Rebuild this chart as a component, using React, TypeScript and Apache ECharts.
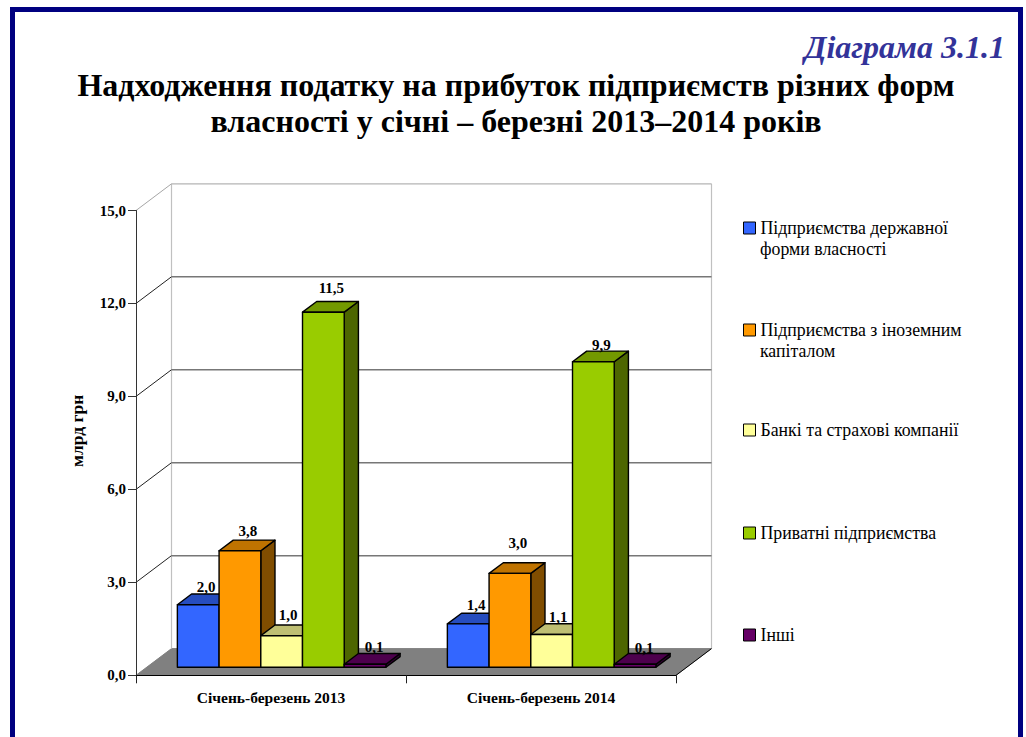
import React, { useEffect, useRef } from "react";
import * as echarts from "echarts";

const periods = ["Січень-березень 2013", "Січень-березень 2014"];
const stateOwned = [2.02, 1.4];
const foreignCapital = [3.76, 3.03];
const banksInsurance = [1.02, 1.06];
const privateFirms = [11.46, 9.86];
const others = [0.1, 0.1];
const gridTicks = [0, 3, 6, 9, 12, 15];

const seriesNames = [
  "Підприємства державної\nформи власності",
  "Підприємства з іноземним\nкапіталом",
  "Банкі та страхові компанії",
  "Приватні підприємства",
  "Інші",
];
const seriesValues = [stateOwned, foreignCapital, banksInsurance, privateFirms, others];

const faces = [
  { front: "#3366ff", top: "#264dbf", side: "#1a3380" },
  { front: "#ff9900", top: "#bf7300", side: "#804d00" },
  { front: "#ffff99", top: "#bfbf73", side: "#80804d" },
  { front: "#99cc00", top: "#739900", side: "#4d6600" },
  { front: "#660066", top: "#4d004d", side: "#330033" },
];

// 3D projection and layout constants
const DX = 35.5;
const DY = 26.7;
const FRONT_GAP = 0.3;
const BAR_DEPTH = 0.4;
const BAR_SHARE = 0.1545;
const SERIF = "'Liberation Serif', 'Times New Roman', serif";
const labelRise = [
  [18, 19.3],
  [19.7, 30.3],
  [21, 17.7],
  [24, 17],
  [17, 16],
];
const labelShift = [
  [8, 8],
  [8, 8],
  [6.5, 6.5],
  [8, 8],
  [9, 9],
];
const legendCentres = [228, 330, 430, 533, 635];

function wallItem(_: any, api: any) {
  const value = api.value(0);
  const band = api.size([1, 0])[0];
  const left = api.coord([0, value])[0] - band / 2;
  const right = api.coord([1, value])[0] + band / 2;
  const y = api.coord([0, value])[1];
  const y0 = api.coord([0, 0])[1];
  const yMax = api.coord([0, 15])[1];
  const children: any[] = [];
  if (value === 0) {
    children.push({
      type: "polygon",
      shape: { points: [[left, y0], [right, y0], [right + DX, y0 - DY], [left + DX, y0 - DY]] },
      style: { fill: "#808080", stroke: "#808080", lineWidth: 1 },
    });
    children.push({
      type: "line",
      shape: { x1: left + DX, y1: y0 - DY, x2: left + DX, y2: yMax - DY },
      style: { stroke: "#c0c0c0", lineWidth: 1.2 },
    });
    children.push({
      type: "line",
      shape: { x1: right + DX, y1: y0 - DY, x2: right + DX, y2: yMax - DY },
      style: { stroke: "#c0c0c0", lineWidth: 1.2 },
    });
    children.push({
      type: "line",
      shape: { x1: right, y1: y0, x2: right + DX, y2: y0 - DY },
      style: { stroke: "#000", lineWidth: 1 },
    });
  } else {
    const isTop = value === 15;
    children.push({
      type: "line",
      shape: { x1: left, y1: y, x2: left + DX, y2: y - DY },
      style: { stroke: isTop ? "#a6a6a6" : "#222", lineWidth: 1 },
    });
    children.push({
      type: "line",
      shape: { x1: left + DX, y1: y - DY, x2: right + DX, y2: y - DY },
      style: { stroke: isTop ? "#b4b4b4" : "#777", lineWidth: isTop ? 1.2 : 1.5 },
    });
  }
  return { type: "group", children };
}

function barItem(seriesIndex: number) {
  return (params: any, api: any) => {
    const cat = api.value(0);
    const value = api.value(1);
    const base = api.coord([cat, 0]);
    const top = api.coord([cat, value]);
    const band = api.size([1, 0])[0];
    const w = band * BAR_SHARE;
    const x0 = base[0] - 2.5 * w + seriesIndex * w + DX * FRONT_GAP;
    const x1 = x0 + w;
    const yb = base[1] - DY * FRONT_GAP;
    const yt = top[1] - DY * FRONT_GAP;
    const dx = DX * BAR_DEPTH;
    const dy = DY * BAR_DEPTH;
    const edge = { stroke: "#000", lineWidth: 1.4, lineJoin: "round" };
    const f = faces[seriesIndex];
    return {
      type: "group",
      children: [
        {
          type: "polygon",
          shape: { points: [[x1, yb], [x1 + dx, yb - dy], [x1 + dx, yt - dy], [x1, yt]] },
          style: { fill: f.side, ...edge },
        },
        {
          type: "polygon",
          shape: { points: [[x0, yt], [x1, yt], [x1 + dx, yt - dy], [x0 + dx, yt - dy]] },
          style: { fill: f.top, ...edge },
        },
        {
          type: "rect",
          shape: { x: x0, y: yt, width: w, height: yb - yt },
          style: { fill: f.front, ...edge },
        },
        {
          type: "text",
          style: {
            x: (x0 + x1) / 2 + labelShift[seriesIndex][cat],
            y: yt - labelRise[seriesIndex][cat],
            text: value.toFixed(1).replace(".", ","),
            fill: "#000",
            font: `bold 15px ${SERIF}`,
            align: "center",
            verticalAlign: "middle",
          },
        },
      ],
    };
  };
}

export default function App() {
  const ref = useRef<HTMLDivElement>(null);
  useEffect(() => {
    document.body.style.margin = "0";
    const chart = echarts.init(ref.current!, null, { renderer: "svg" });
    chart.setOption({
      animation: false,
      backgroundColor: "#fff",
      title: [
        {
          text: "Надходження податку на прибуток підприємств різних форм\nвласності у січні – березні 2013–2014 років",
          left: 516,
          textAlign: "center",
          top: 67,
          padding: 0,
          textStyle: { fontFamily: SERIF, fontSize: 32, fontWeight: "bold", color: "#000", lineHeight: 36 },
        },
        {
          text: "Діаграма 3.1.1",
          right: 21,
          top: 28,
          padding: 0,
          textStyle: { fontFamily: SERIF, fontSize: 32, fontWeight: "bold", fontStyle: "italic", color: "#333399", lineHeight: 38 },
        },
      ],
      grid: { left: 136, right: 350, top: 210.5, bottom: 61.7, containLabel: false },
      xAxis: {
        type: "category",
        data: periods,
        z: 3,
        axisLine: { show: true, lineStyle: { color: "#000", width: 1 } },
        axisTick: { show: true, length: 8, lineStyle: { color: "#222", width: 1 } },
        axisLabel: { fontFamily: SERIF, fontSize: 15.5, fontWeight: "bold", color: "#000", margin: 14 },
      },
      yAxis: {
        type: "value",
        min: 0,
        max: 15,
        interval: 3,
        z: 3,
        name: "млрд грн",
        nameLocation: "middle",
        nameGap: 50,
        nameTextStyle: { fontFamily: SERIF, fontSize: 17.5, fontWeight: "bold", color: "#000", padding: [0, 0, 0, 24] },
        splitLine: { show: false },
        axisLine: { show: true, lineStyle: { color: "#333", width: 1 } },
        axisTick: { show: true, length: 8, lineStyle: { color: "#333", width: 1 } },
        axisLabel: {
          fontFamily: SERIF,
          fontSize: 15,
          fontWeight: "bold",
          color: "#000",
          margin: 10,
          formatter: (v: number) => v.toFixed(1).replace(".", ","),
        },
      },
      legend: seriesNames.map((name, i) => ({
        data: [name],
        orient: "vertical",
        left: 743,
        top: legendCentres[i] - 10,
        padding: 0,
        icon: "rect",
        itemWidth: 12,
        itemHeight: 12,
        itemGap: 0,
        selectedMode: false,
        itemStyle: { borderColor: "#000", borderWidth: 1 },
        formatter: (n: string) => n.split("\n")[0],
        textStyle: { fontFamily: SERIF, fontSize: 17.8, color: "#000", lineHeight: 20, padding: [0, 0, 0, 0] },
      })),
      graphic: [
        {
          type: "polyline",
          silent: true,
          shape: { points: [[12.5, 737], [12.5, 9.5], [1020.5, 9.5], [1020.5, 737]] },
          style: { stroke: "#000080", lineWidth: 5, fill: "none" },
        },
        ...seriesNames.map((name, i) => ({ name, i })).filter((o) => o.name.includes("\n")).map((o) => ({
          type: "text",
          silent: true,
          x: 760,
          y: legendCentres[o.i] + 21,
          style: {
            text: o.name.split("\n")[1],
            font: `17.8px ${SERIF}`,
            fill: "#000",
            verticalAlign: "middle",
          },
        })),
      ],
      series: [
        {
          type: "custom",
          name: "walls",
          z: 1,
          silent: true,
          clip: false,
          coordinateSystem: "cartesian2d",
          renderItem: wallItem,
          encode: { y: 0 },
          data: gridTicks.map((t) => [t]),
        },
        ...seriesNames.map((name, i) => ({
          type: "custom",
          name,
          z: 4,
          clip: false,
          coordinateSystem: "cartesian2d",
          itemStyle: { color: faces[i].front },
          renderItem: barItem(i),
          encode: { x: 0, y: 1 },
          data: seriesValues[i].map((v, c) => [c, v]),
        })),
      ],
    });
    return () => chart.dispose();
  }, []);
  return <div ref={ref} style={{ width: 1026, height: 737, overflow: "hidden" }} />;
}
